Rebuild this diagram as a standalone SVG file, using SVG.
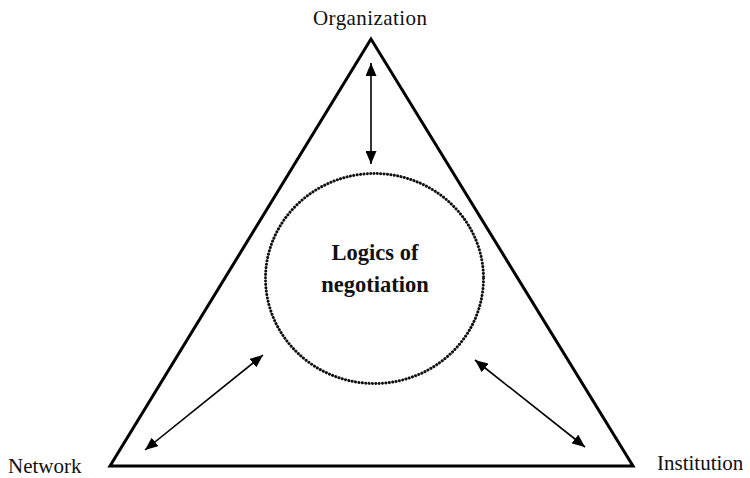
<svg xmlns="http://www.w3.org/2000/svg" width="750" height="478" viewBox="0 0 750 478">
<style>
.lbl{font-family:"Liberation Serif","Times New Roman",serif;font-size:21px;fill:#111}
.ctr{font-family:"Liberation Serif","Times New Roman",serif;font-size:22.5px;font-weight:bold;fill:#111;text-anchor:middle}
.tri{fill:none;stroke:#000;stroke-width:3;stroke-linejoin:miter}
.dot{fill:none;stroke:#111;stroke-width:3;stroke-linecap:round;stroke-dasharray:0.1 3.3}
.arr{stroke:#000;stroke-width:1.6;fill:none;marker-start:url(#ah);marker-end:url(#ah)}
</style>
<defs>
<marker id="ah" viewBox="0 0 13 11" refX="13" refY="5.5" markerWidth="13" markerHeight="11" markerUnits="userSpaceOnUse" orient="auto-start-reverse">
<path d="M0,0 L13,5.5 L0,11 Z" fill="#000"/>
</marker>
</defs>
<rect width="750" height="478" fill="#fff"/>
<g id="triangle">
<polygon class="tri" points="371,39 110,466 633,466"/>
</g>
<g id="center">
<ellipse class="dot" cx="374.5" cy="278.5" rx="109" ry="105"/>
<text class="ctr" x="375" y="260">Logics of</text>
<text class="ctr" x="375" y="292">negotiation</text>
</g>
<g id="organization"><text class="lbl" x="370" y="25" text-anchor="middle" textLength="114">Organization</text></g>
<g id="network"><text class="lbl" x="8" y="473">Network</text></g>
<g id="institution"><text class="lbl" x="657" y="470">Institution</text></g>
<g id="connectors">
<line class="arr" x1="371" y1="63" x2="371" y2="164"/>
<line class="arr" x1="263" y1="355" x2="145" y2="450"/>
<line class="arr" x1="475" y1="360" x2="585" y2="447"/>
</g>
</svg>
